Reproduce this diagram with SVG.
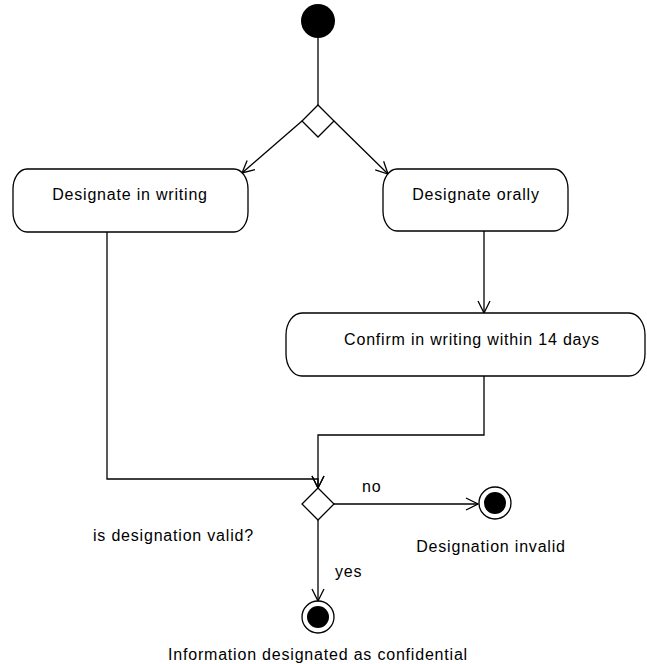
<svg xmlns="http://www.w3.org/2000/svg" width="647" height="664" viewBox="0 0 647 664">
  <style>
    .line { fill: none; stroke: #000; stroke-width: 1.3; }
    .node { fill: #fff; stroke: #000; stroke-width: 1.3; }
    .dot { fill: #000; }
    text { font-family: "Liberation Sans", Arial, sans-serif; font-size: 16px; letter-spacing: 0.8px; fill: #000; }
    .c { text-anchor: middle; }
  </style>
  <defs>
    <marker id="open" viewBox="0 0 14 14" refX="13" refY="7" markerWidth="14" markerHeight="14" markerUnits="userSpaceOnUse" orient="auto">
      <path d="M1,1 L13,7 L1,13" fill="none" stroke="#000" stroke-width="1.3"/>
    </marker>
  </defs>
  <rect width="647" height="664" fill="#fff"/>

  <!-- flow lines -->
  <g id="connectors">
    <line class="line" x1="318" y1="38" x2="318" y2="105"/>
    <line class="line" x1="302" y1="121" x2="242" y2="173" marker-end="url(#open)"/>
    <line class="line" x1="334" y1="121" x2="388" y2="174" marker-end="url(#open)"/>
    <polyline class="line" points="107,232 107,479 318,479 318,488" marker-end="url(#open)"/>
    <line class="line" x1="484" y1="231" x2="484" y2="313" marker-end="url(#open)"/>
    <polyline class="line" points="484,376 484,435 318,435 318,488" marker-end="url(#open)"/>
    <line class="line" x1="334" y1="504" x2="478" y2="504" marker-end="url(#open)"/>
    <line class="line" x1="318" y1="520" x2="318" y2="601" marker-end="url(#open)"/>
    <text x="362" y="492">no</text>
    <text x="335" y="577">yes</text>
  </g>

  <g id="start">
    <circle class="dot" cx="318" cy="21" r="17"/>
  </g>

  <g id="split">
    <polygon class="node" points="318,105 334,121 318,137 302,121"/>
  </g>

  <g id="designate-writing">
    <rect class="node" x="13" y="169" width="235" height="63" rx="14" ry="20"/>
    <text class="c" x="130" y="200">Designate in writing</text>
  </g>

  <g id="designate-orally">
    <rect class="node" x="383" y="169" width="185" height="62" rx="14" ry="20"/>
    <text class="c" x="476" y="200">Designate orally</text>
  </g>

  <g id="confirm-writing">
    <rect class="node" x="286" y="313" width="359" height="63" rx="16" ry="22"/>
    <text class="c" x="472" y="345">Confirm in writing within 14 days</text>
  </g>

  <g id="valid-check">
    <polygon class="node" points="318,488 334,504 318,520 302,504"/>
    <text x="93" y="541">is designation valid?</text>
  </g>

  <g id="end-invalid">
    <circle class="node" cx="495" cy="503" r="16"/>
    <circle class="dot" cx="495" cy="503" r="11"/>
    <text class="c" x="491" y="552">Designation invalid</text>
  </g>

  <g id="end-confidential">
    <circle class="node" cx="318" cy="617" r="16"/>
    <circle class="dot" cx="318" cy="617" r="11"/>
    <text class="c" x="318" y="660">Information designated as confidential</text>
  </g>
</svg>
